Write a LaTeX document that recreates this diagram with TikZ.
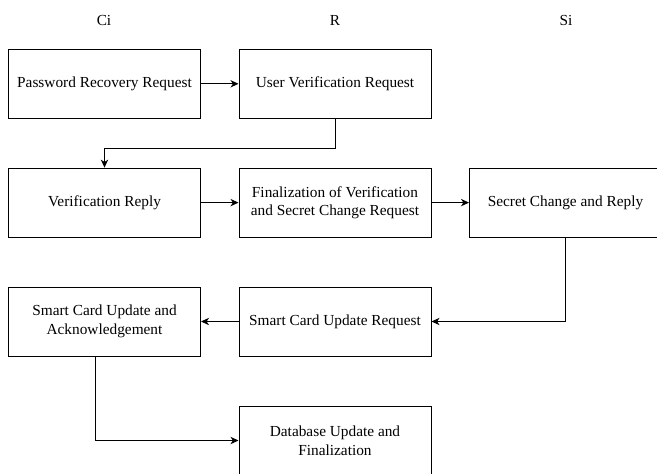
\documentclass[tikz,border=0pt]{standalone}
\usepackage{fontspec}
\setmainfont{Liberation Serif}
\usetikzlibrary{arrows.meta}
\usetikzlibrary{positioning}
\tikzstyle{block}=[draw,rectangle,minimum width=144pt,minimum height=51.75pt,align=center,inner sep=2pt,line width=0.75pt]
\tikzstyle{lane}=[inner sep=0pt]

\begin{document}
\begin{tikzpicture}
		[x=0.75pt,y=-0.75pt,edge/.style = {draw,line width=0.75pt,->,> = {Stealth[length=6pt,width=5.5pt,inset=1.8pt]}}, every node/.style={font=\fontsize{11.5}{14}\selectfont}]
		\useasboundingbox (0,0) rectangle (657,474);
		\clip (0,0) rectangle (657,474);
		\node[lane] (ci) at (104,20.5) {Ci};
		\node[lane] (r) at (335,20.5) {R};
		\node[lane] (si) at (566,20.5) {Si};
		
		\node[block] (a1) at (104.5,83.8) {Password Recovery Request};
		\node[block] (a2) at (335,83.8) {User Verification Request};
		\node[block] (b1) at (104.5,202.6) {Verification Reply};
		\node[block] (b2) at (335,202.6) {Finalization of Verification\\and Secret Change Request};
		\node[block] (b3) at (565.5,202.6) {Secret Change and Reply};
		\node[block] (c1) at (104.5,321.5) {Smart Card Update and\\Acknowledgement};
		\node[block] (c2) at (335,321.5) {Smart Card Update Request};
		\node[block] (d2) at (335,440.5) {Database Update and\\Finalization};
		
		\draw[edge] (a1) to (a2);
		\draw[edge] (a2.south) -- ++(0,29.5) -| (b1.north);
		\draw[edge] (b1) to (b2);
		\draw[edge] (b2) to (b3);
		\draw[edge] (b3.south) |- (c2.east);
		\draw[edge] (c2) to (c1);
		\draw[edge] ([xshift=-7.1pt]c1.south) |- (d2.west);
		
		\end{tikzpicture}
\end{document}
